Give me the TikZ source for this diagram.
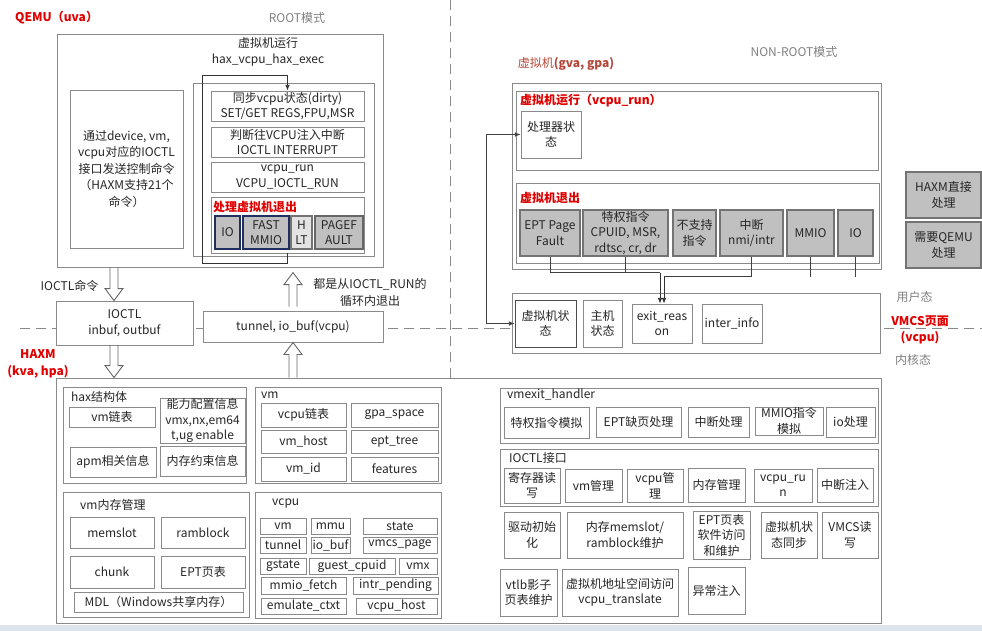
\documentclass[tikz,border=0pt]{standalone}
\usepackage{fontspec}
\setmainfont{Noto Sans CJK SC}
\usepackage{tikz}
\usetikzlibrary{positioning,arrows.meta,calc}
\usepackage{xcolor}
\definecolor{boxc}{HTML}{8A8A8A}
\definecolor{txtc}{HTML}{262626}
\definecolor{redc}{HTML}{E00000}
\definecolor{exitc}{HTML}{C0C0C0}
\definecolor{notec}{HTML}{7F7F7F}
\definecolor{navy}{HTML}{1F2F5F}
\definecolor{barc}{HTML}{DCE3EC}
\definecolor{vmred}{HTML}{B5473A}
\newcommand{\basefs}{\fontsize{12}{15.5}\selectfont}
\newcommand{\hollowarr}[3]{%
  \draw[hol] ($(#1)+(-4,0)$) -- ($(#2)+(-4,#3)$) -- ($(#2)+(-9,#3)$) -- (#2)
    -- ($(#2)+(9,#3)$) -- ($(#2)+(4,#3)$) -- ($(#1)+(4,0)$);}

\begin{document}
\begin{tikzpicture}[x=1pt,y=-1pt,
    font=\basefs,
    box/.style={draw=boxc,line width=0.9pt,fill=white,inner sep=0pt,align=center,text=txtc},
    gbox/.style={box,fill=exitc,draw=gray!90!black,line width=1.1pt},
    grp/.style={draw=boxc,line width=0.9pt,fill=white,inner sep=0pt},
    sz/.style 2 args={minimum width=#1,minimum height=#2},
    ttl/.style={text=redc,font=\basefs\bfseries,anchor=west,inner sep=0pt},
    lbl/.style={text=txtc,inner sep=0pt,align=center},
    note/.style={text=notec,inner sep=0pt,align=center},
    arr/.style={-{Latex[length=2mm,width=1.6mm]},line width=0.8pt,draw=black!80},
    lnk/.style={line width=0.8pt,draw=black!75},
    hol/.style={line width=0.9pt,draw=black!60},
    dsh/.style={draw=boxc,line width=0.8pt,dash pattern=on 10pt off 6pt},
  ]
  \useasboundingbox (0,0) rectangle (982,631);
  \fill[barc] (0,625) rectangle (982,631);
  \draw[dsh] (20,328) -- (982,328);
  \draw[dsh] (450,0) -- (450,378);

  % mode labels
  \node[ttl] (QL) at (15,18) {QEMU（uva）};
  \node[note] (RM) at (297,18) {ROOT模式};
  \node[note] (NRM) at (794,52) {NON-ROOT模式};
  \node[inner sep=0pt,text=vmred] (GV) at (566,64) {虚拟机\textbf{(gva, gpa)}};
  \node[note] (UST) at (914.5,297) {用户态};
  \node[ttl,anchor=center,align=center] (VMCSP) at (920,330) {VMCS页面\\(vcpu)};
  \node[note] (KST) at (913,360) {内核态};
  \node[ttl,anchor=center,align=center,font=\fontsize{12}{17}\selectfont\bfseries] (HX) at (38,363.5) {HAXM\\(kva, hpa)};

  % QEMU
  \node[grp,sz={326}{233}] (QEMU) at (220,150.5) {};
  \node[lbl] (QRUN) at (268,43) {虚拟机运行};
  \node[lbl] (QEXEC) at (268,60) {hax\_vcpu\_hax\_exec};
  \node[box,sz={113}{158},font=\fontsize{12}{16.5}\selectfont] (QCMD) at (126.5,169)
    {通过device, vm,\\vcpu对应的IOCTL\\接口发送控制命令\\（HAXM支持21个\\命令）};
  \node[grp,sz={181}{173}] (LP) at (283.5,169.5) {};
  \node[box,sz={153}{30}] (SYNC) at (287.5,106) {同步vcpu状态(dirty)\\SET/GET REGS,FPU,MSR};
  \node[box,sz={153}{30}] (INTR) at (287.5,142) {判断往VCPU注入中断\\IOCTL INTERRUPT};
  \node[box,sz={153}{30}] (RUN) at (287.5,177) {vcpu\_run\\VCPU\_IOCTL\_RUN};
  \node[box,sz={153}{56}] (EXITQ) at (287.5,225) {};
  \node[ttl] (EXQT) at (213,207) {处理虚拟机退出};
  \node[gbox,draw=navy,sz={25}{33}] (IOQ) at (227.5,232.5) {IO};
  \node[gbox,draw=navy,sz={46}{33}] (FMQ) at (266,232.5) {FAST\\MMIO};
  \node[gbox,fill=gray!22,sz={21}{33}] (HLQ) at (301.5,232.5) {H\\LT};
  \node[gbox,draw=black!60,line width=1.4pt,sz={48}{33}] (PFQ) at (339,232.5) {PAGEF\\AULT};
  \draw[arr] (EXITQ.south) |- (202,263) -- (202,75) -| (SYNC.north);

  % user/kernel boundary
  \node[lbl] (CMDL) at (69.5,286) {IOCTL命令};
  \node[box,sz={137}{44}] (IOC) at (124.5,323) {IOCTL\\inbuf, outbuf};
  \node[box,sz={180}{31}] (TUN) at (293,326.5) {tunnel, io\_buf(vcpu)};
  \node[lbl,font=\fontsize{12}{16.5}\selectfont] (RUNN) at (370,292.5) {都是从IOCTL\_RUN的\\循环内退出};

  % guest
  \node[grp,sz={369}{186}] (VMO) at (696.5,176) {};
  \node[grp,sz={362}{79}] (VRUN) at (697,130.5) {};
  \node[ttl] (VRT) at (520,101) {虚拟机运行（vcpu\_run）};
  \node[box,sz={60}{47}] (CPUS) at (551,134.5) {处理器状\\态};
  \node[grp,sz={363}{80}] (VEXIT) at (697.5,223) {};
  \node[ttl] (VET) at (520,198) {虚拟机退出};
  \node[gbox,sz={60}{46}] (EPTE) at (550,233) {EPT Page\\Fault};
  \node[gbox,sz={85}{46},font=\fontsize{12}{15.5}\selectfont] (PRIV) at (625.5,233) {特权指令\\CPUID, MSR,\\rdtsc, cr, dr};
  \node[gbox,sz={43}{46}] (UNS) at (694.5,233) {不支持\\指令};
  \node[gbox,sz={63}{46}] (NMI) at (751.5,233) {中断\\nmi/intr};
  \node[gbox,sz={47}{46}] (MMIOE) at (810.5,233) {MMIO};
  \node[gbox,sz={35}{46}] (IOE) at (855.5,233) {IO};

  % VMCS row
  \node[grp,sz={368}{60}] (SROW) at (696,323) {};
  \node[box,draw=black!70,sz={61}{47}] (VMST) at (545.5,323.5) {虚拟机状\\态};
  \node[box,sz={39}{47}] (HOST) at (602.5,323.5) {主机\\状态};
  \node[box,sz={60}{39}] (EXR) at (662,323.5) {exit\_reas\\on};
  \node[box,sz={60}{39}] (INF) at (732,323.5) {inter\_info};

  \coordinate (J1) at ($(EXR.north)+(-2,-31)$);
  \coordinate (J2) at ($(EXR.north)+(2,-27)$);
  \draw[lnk] (EPTE.south) |- (J1);
  \draw[lnk] (PRIV.south) -- (PRIV.south |- J1);
  \draw[lnk] (NMI.south) |- (J2);
  \draw[lnk] (MMIOE.south) -- (MMIOE.south |- J2);
  \draw[lnk] (IOE.south) -- (IOE.south |- J2);
  \draw[arr] (J1) -- (J1 |- EXR.north);
  \draw[arr] (J2) -- (J2 |- EXR.north);
  \coordinate (LX) at ($(VMST.west)+(-28.5,0)$);
  \draw[lnk,{Latex[length=2mm,width=1.6mm]}-{Latex[length=2mm,width=1.6mm]}] (CPUS.west) -| (LX) -- (VMST.west);

  % legend
  \node[gbox,sz={75}{46}] (HXD) at (943.5,195) {HAXM直接\\处理};
  \node[gbox,sz={75}{46}] (NQ) at (943.5,245) {需要QEMU\\处理};

  % HAXM
  \node[grp,sz={825}{245}] (HAXM) at (468.5,500.5) {};
  \node[grp,sz={183}{96}] (HAXS) at (154.5,435) {};
  \node[lbl,anchor=west] (HAXT) at (71,397) {hax结构体};
  \node[box,sz={86}{20}] (VML) at (112,417) {vm链表};
  \node[box,sz={85}{45}] (CAP) at (202.5,420.5) {能力配置信息\\vmx,nx,em64\\t,ug enable};
  \node[box,sz={86}{30}] (APM) at (113,462) {apm相关信息};
  \node[box,sz={85}{30}] (MEMC) at (202.5,461) {内存约束信息};

  \node[grp,sz={186}{125}] (VMM) at (156,554.5) {};
  \node[lbl,anchor=west] (VMMT) at (80,505) {vm内存管理};
  \node[box,sz={84}{31}] (MSL) at (112,532.5) {memslot};
  \node[box,sz={84}{31}] (RBL) at (203,532.5) {ramblock};
  \node[box,sz={84}{32}] (CHK) at (112,572) {chunk};
  \node[box,sz={84}{32}] (EPTP) at (203,572) {EPT页表};
  \node[box,sz={169}{20}] (MDL) at (158.5,602) {MDL（Windows共享内存）};

  \node[grp,sz={186}{96}] (VMB) at (348,435) {};
  \node[lbl,anchor=west] (VMBT) at (261,395) {vm};
  \node[box,sz={85}{24}] (VCL) at (303.5,415) {vcpu链表};
  \node[box,sz={87}{24}] (GPA) at (394.5,415) {gpa\_space};
  \node[box,sz={85}{23}] (VMH) at (303.5,441.5) {vm\_host};
  \node[box,sz={87}{23}] (EPTT) at (394.5,441.5) {ept\_tree};
  \node[box,sz={85}{24}] (VMID) at (303.5,469) {vm\_id};
  \node[box,sz={87}{24}] (FEAT) at (394.5,469) {features};

  \node[grp,sz={186}{126}] (VCPU) at (348,555) {};
  \node[lbl,anchor=west] (VCPUT) at (272,504) {vcpu};
  \node[box,sz={46}{16}] (VMR) at (283,526) {vm};
  \node[box,sz={39}{16}] (MMU) at (330.5,526) {mmu};
  \node[box,sz={74}{16}] (STA) at (400,526) {state};
  \node[box,sz={46}{16}] (TNL) at (283,545) {tunnel};
  \node[box,sz={39}{16}] (IOB) at (330.5,545) {io\_buf};
  \node[box,sz={74}{16}] (VPG) at (400,545) {vmcs\_page};
  \node[box,sz={46}{16}] (GST) at (283,566) {gstate};
  \node[box,sz={86}{16}] (GCP) at (352,566) {guest\_cpuid};
  \node[box,sz={38}{16}] (VMX) at (418,566) {vmx};
  \node[box,sz={85}{17}] (MMF) at (303.5,585.5) {mmio\_fetch};
  \node[box,sz={85}{17}] (IPD) at (395.5,585.5) {intr\_pending};
  \node[box,sz={85}{16}] (EMC) at (303.5,606) {emulate\_ctxt};
  \node[box,sz={81}{16}] (VCH) at (396.5,606) {vcpu\_host};

  \node[grp,sz={378}{55}] (VMEH) at (689,415.5) {};
  \node[lbl,anchor=west] (VMEHT) at (507,395) {vmexit\_handler};
  \node[box,sz={85}{31}] (PRVE) at (546.5,422.5) {特权指令模拟};
  \node[box,sz={85}{30}] (EPTM) at (638.5,422) {EPT缺页处理};
  \node[box,sz={61}{30}] (INTH) at (718.5,422) {中断处理};
  \node[box,sz={68}{28}] (MMIOH) at (789,421) {MMIO指令\\模拟};
  \node[box,sz={49}{30}] (IOH) at (850.5,422) {io处理};

  \node[grp,sz={378}{57}] (IOCI) at (689,477.5) {};
  \node[lbl,anchor=west] (IOCIT) at (509,458) {IOCTL接口};
  \node[box,sz={56}{35}] (REG) at (532,485.5) {寄存器读\\写};
  \node[box,sz={57}{33}] (VMG) at (593.5,485.5) {vm管理};
  \node[box,sz={56}{33}] (VCG) at (655,485.5) {vcpu管\\理};
  \node[box,sz={57}{34}] (MEMG) at (716.5,485) {内存管理};
  \node[box,sz={58}{33}] (VRN) at (783,485.5) {vcpu\_ru\\n};
  \node[box,sz={56}{34}] (INJ) at (845,485) {中断注入};

  \node[box,sz={56}{46}] (DRV) at (532,535) {驱动初始\\化};
  \node[box,sz={116}{46}] (MSM) at (625,535) {内存memslot/\\ramblock维护};
  \node[box,sz={57}{48}] (EPTS) at (721.5,535) {EPT页表\\软件访问\\和维护};
  \node[box,sz={56}{46}] (VSS) at (789,535) {虚拟机状\\态同步};
  \node[box,sz={56}{46}] (VMCS) at (850,535) {VMCS读\\写};
  \node[box,sz={57}{47}] (VTLB) at (528.5,592.5) {vtlb影子\\页表维护};
  \node[box,sz={116}{47}] (VAS) at (620,592.5) {虚拟机地址空间访问\\vcpu\_translate};
  \node[box,sz={57}{47}] (EXC) at (716.5,590.5) {异常注入};

  % hollow arrows
  \coordinate (A1) at ($(IOC.north)+(-10.5,0)$);
  \hollowarr{A1 |- QEMU.south}{A1}{-12}
  \coordinate (A2) at ($(IOC.south)+(-10.5,0)$);
  \hollowarr{A2}{A2 |- HAXM.north}{-12}
  \coordinate (A3) at ($(TUN.north)+(0,-4)$);
  \coordinate (A3h) at ($(TUN.north)+(0,-38)$);
  \hollowarr{A3}{A3h}{12}
  \hollowarr{TUN.south |- HAXM.north}{TUN.south}{12}
\end{tikzpicture}
\end{document}
